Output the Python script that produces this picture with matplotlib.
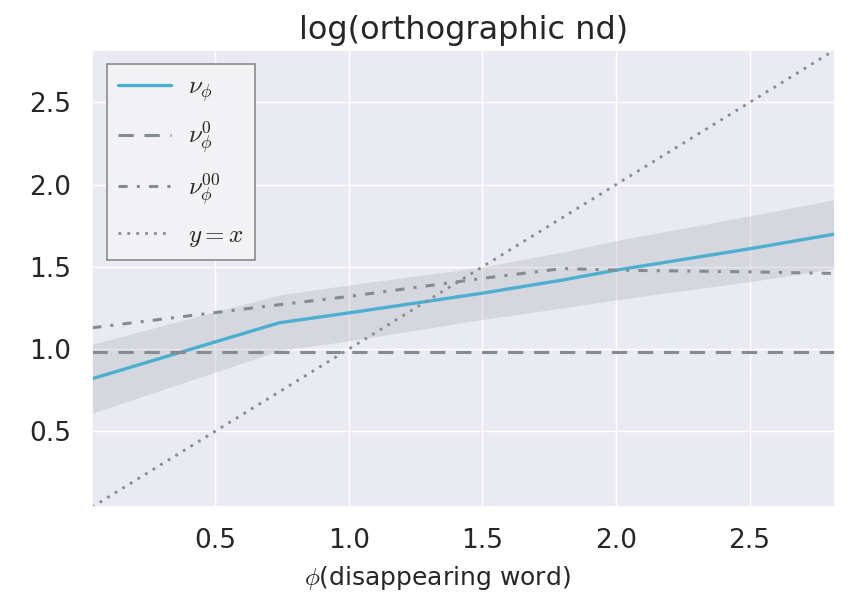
import matplotlib
matplotlib.use("Agg")
import matplotlib.pyplot as plt
import seaborn as sns
import numpy as np

sns.set_theme(style="darkgrid")
plt.rcParams['font.family'] = ['DejaVu Sans']
plt.rcParams['mathtext.fontset'] = 'cm'

# data
phi = [0.04, 0.74, 1.0, 1.5, 1.8, 2.0, 2.5, 2.82]
nu_phi = [0.82, 1.16, 1.22, 1.34, 1.42, 1.48, 1.61, 1.70]
nu_phi_ci = [0.21, 0.17, 0.17, 0.16, 0.17, 0.18, 0.20, 0.21]
nu0 = [0.98, 0.98, 0.98, 0.98, 0.98, 0.98, 0.98, 0.98]
nu00 = [1.13, 1.27, 1.32, 1.43, 1.49, 1.48, 1.47, 1.46]
diag = [0.04, 2.82]

title = "log(orthographic nd)"
xlabel = r"$\phi$(disappearing word)"
labels = [r"$\nu_\phi$", r"$\nu_\phi^0$", r"$\nu_\phi^{00}$", r"$y=x$"]
ticks = [0.5, 1.0, 1.5, 2.0, 2.5]

fig = plt.figure(figsize=(8.53, 6.0), dpi=100)
ax = fig.add_axes([0.108, 0.155, 0.871, 0.762])

lo = np.array(nu_phi) - np.array(nu_phi_ci)
hi = np.array(nu_phi) + np.array(nu_phi_ci)
ax.fill_between(phi, lo, hi, color='#9a9aa2', alpha=0.24, linewidth=0)
ax.plot(phi, nu_phi, color='#4bb0cf', lw=2.4, label=labels[0])
ax.plot(phi, nu0, color='#858c90', lw=2.2, ls=(0, (5, 3.5)), label=labels[1])
ax.plot(phi, nu00, color='#858c90', lw=2.2, ls=(0, (3, 3, 1, 3)), label=labels[2])
ax.plot(diag, diag, color='#858c90', lw=2.0, ls=(0, (1, 2.2)), label=labels[3])

ax.set_xlim(0.04, 2.82)
ax.set_ylim(0.04, 2.82)
ax.set_xticks(ticks)
ax.set_yticks(ticks)
ax.tick_params(labelsize=19, colors='#262626')
ax.tick_params(axis='y', pad=9)
ax.tick_params(axis='x', pad=9)
ax.set_title(title, fontsize=23, color='#262626', pad=8)
ax.set_xlabel(xlabel, fontsize=18, color='#262626')
ax.xaxis.set_label_coords(0.464, -0.125)

leg = ax.legend(loc='upper left', fontsize=18, fancybox=False, frameon=True,
                handlelength=2.1, handletextpad=0.7, labelspacing=0.6,
                borderpad=0.45, borderaxespad=0,
                bbox_to_anchor=(0.020, 0.969))
leg.get_frame().set_facecolor('#f2f2f4')
leg.get_frame().set_edgecolor('#8a8a8a')
leg.get_frame().set_alpha(1.0)
leg.get_frame().set_linewidth(1.2)

fig.savefig("out.png", dpi=100)
